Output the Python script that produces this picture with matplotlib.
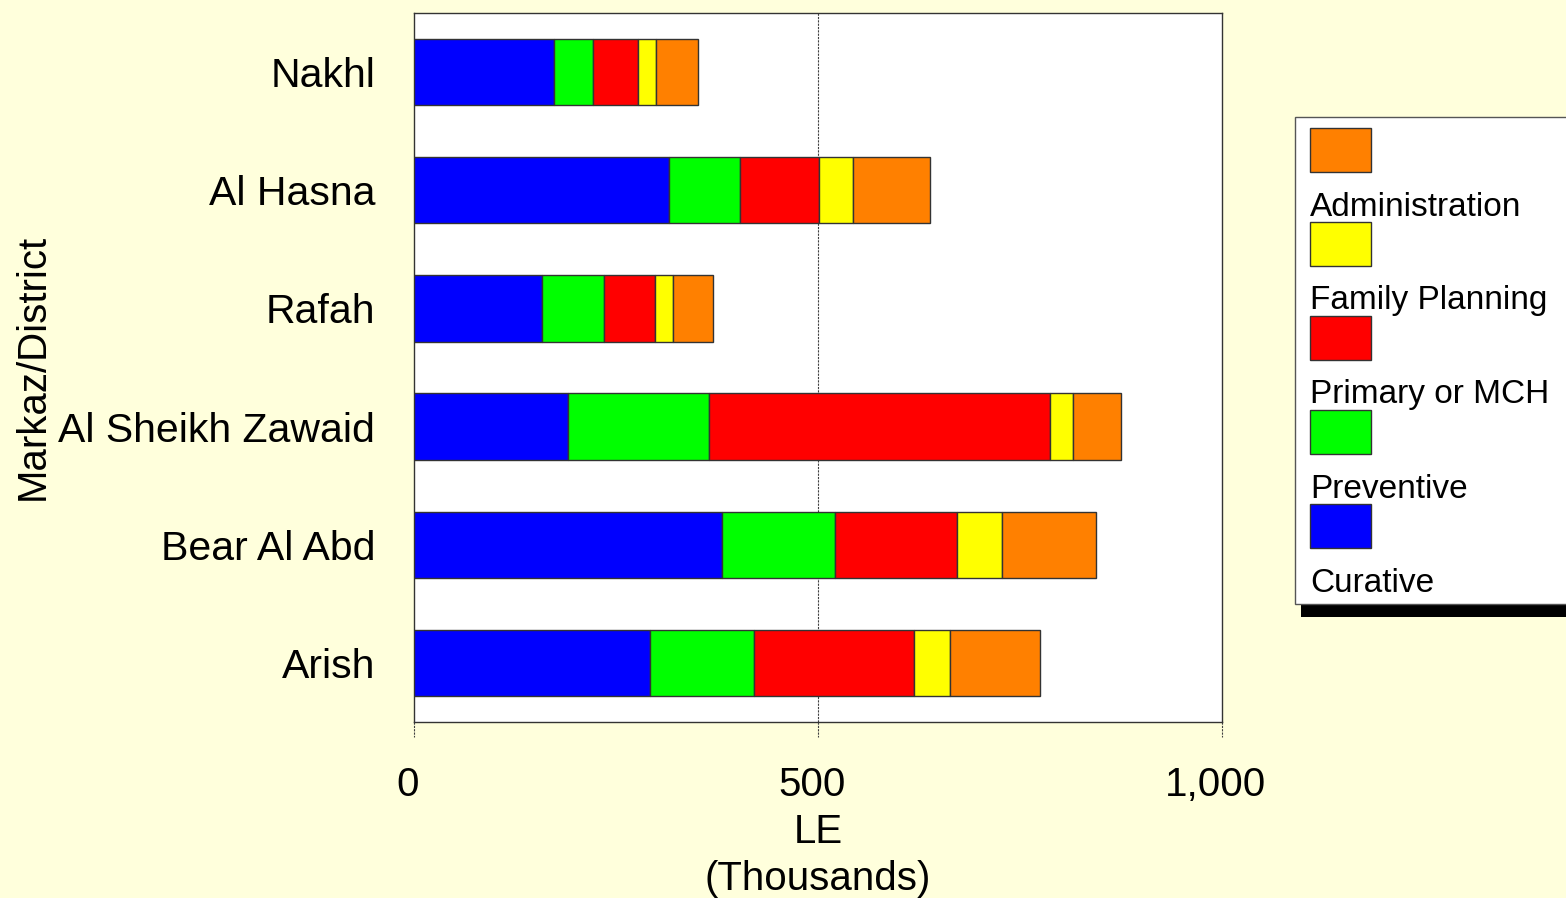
import matplotlib
matplotlib.use("Agg")
import matplotlib.pyplot as plt
from matplotlib.patches import Rectangle
from matplotlib import transforms

plt.rcParams['font.family'] = ['Liberation Sans', 'DejaVu Sans']

# districts, top to bottom
districts = ["Nakhl", "Al Hasna", "Rafah", "Al Sheikh Zawaid", "Bear Al Abd", "Arish"]

# LE (thousands) per category
curative = [173, 316, 158, 191, 381, 292]
preventive = [48, 88, 77, 174, 140, 129]
primary_mch = [56, 97, 63, 422, 151, 198]
family_planning = [22, 42, 22, 28, 56, 44]
administration = [53, 96, 50, 60, 116, 112]

series_names = ["Curative", "Preventive", "Primary or MCH", "Family Planning", "Administration"]
series_values = [curative, preventive, primary_mch, family_planning, administration]
series_colors = ["#0000FF", "#00FF00", "#FF0000", "#FFFF00", "#FF8000"]

x_ticks = [0, 500, 1000]
x_tick_labels = ["0", "500", "1,000"]

BG = "#FFFFDC"
W, H = 1566, 898

fig = plt.figure(figsize=(W / 100, H / 100), dpi=100, facecolor=BG)
ax = fig.add_axes([414 / W, 1 - 722 / H, 808 / W, 709 / H])
ax.set_facecolor("white")

ypos = list(range(len(districts)))
left = [0] * len(districts)
for name, vals, col in zip(series_names, series_values, series_colors):
    ax.barh(ypos, vals, left=left, height=0.56, color=col,
            edgecolor="#333333", linewidth=1, zorder=3, label=name)
    left = [l + v for l, v in zip(left, vals)]

ax.set_xlim(0, 1000)
ax.set_ylim(len(districts) - 0.5, -0.5)

# dashed grid line at 500
ax.axvline(500, color="#404040", linestyle=(0, (2, 1)), linewidth=0.8, zorder=2)

ax.set_yticks(ypos)
ax.set_yticklabels(districts, fontsize=29.5)
ax.tick_params(axis="y", length=0, pad=28)

ax.set_xticks(x_ticks)
ax.set_xticklabels(x_tick_labels, fontsize=29)
ax.tick_params(axis="x", length=0, pad=32)
shift = transforms.ScaledTranslation(-6 / 100, 0, fig.dpi_scale_trans)
for lbl in ax.get_xticklabels():
    lbl.set_transform(lbl.get_transform() + shift)

# dashed tick marks below the axis
trans = transforms.blended_transform_factory(ax.transData, ax.transAxes)
for t in x_ticks:
    ax.plot([t, t], [0, -15 / 709], transform=trans, color="#404040",
            linestyle=(0, (2, 1)), linewidth=0.8, clip_on=False)

for sp in ax.spines.values():
    sp.set_color("#333333")
    sp.set_linewidth(1)

ax.set_xlabel("LE\n(Thousands)", fontsize=29, linespacing=1.3)
ax.xaxis.set_label_coords(0.5, -(813 - 722) / 709)

fig.text(33 / W, 1 - 367 / H, "Markaz/District", rotation=90,
         ha="center", va="center", fontsize=29)

# -----------------------------
# legend (patch above its label, reversed order)
# -----------------------------
lax = fig.add_axes([0, 0, 1, 1], zorder=5)
lax.set_xlim(0, W)
lax.set_ylim(H, 0)
lax.axis("off")

lax.add_patch(Rectangle((1301, 123), 400, 494, facecolor="black", edgecolor="none"))
lax.add_patch(Rectangle((1295, 117), 400, 487, facecolor="white",
                        edgecolor="#555555", linewidth=1))

step = 94
for i, (name, col) in enumerate(zip(series_names[::-1], series_colors[::-1])):
    top = 128 + i * step
    lax.add_patch(Rectangle((1310, top), 61, 44, facecolor=col,
                            edgecolor="#333333", linewidth=1))
    lax.text(1310, top + 79, name, fontsize=24, ha="left", va="center")

fig.savefig("out.png", dpi=100, facecolor=BG)
